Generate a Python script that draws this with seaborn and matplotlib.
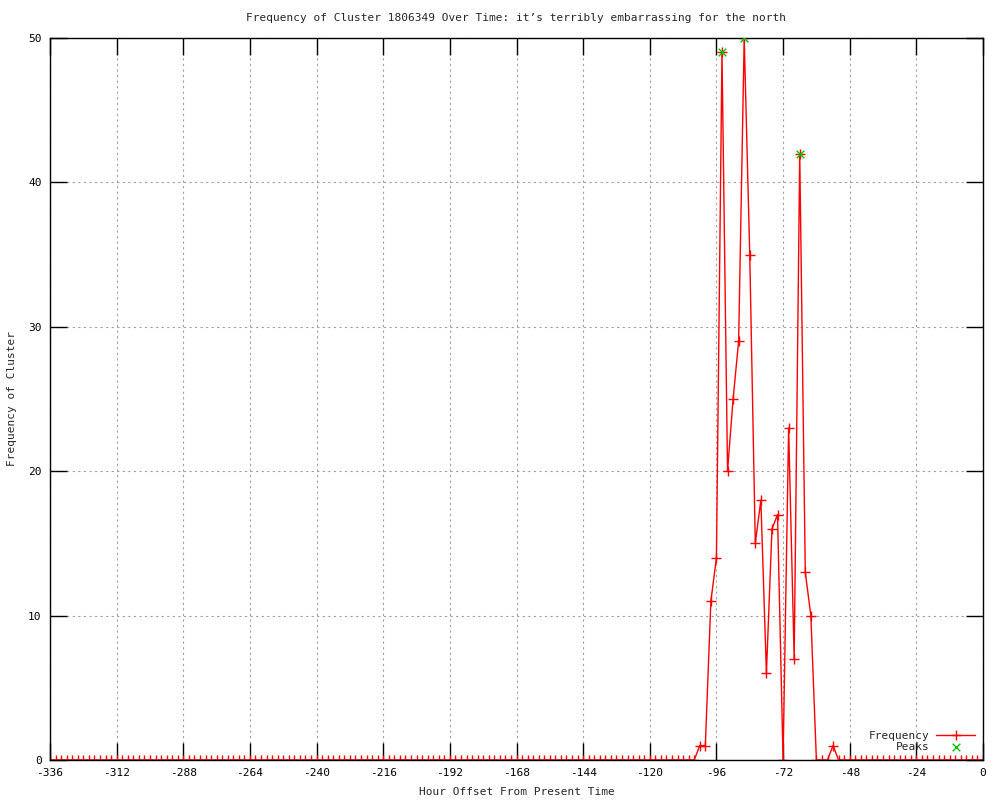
import matplotlib
matplotlib.use("Agg")
import matplotlib.pyplot as plt
import seaborn as sns
import pandas as pd

# hourly buckets (every 2h) from two weeks ago up to now
hours = list(range(-336, 1, 2))

# non-zero part of the series; every other bucket is 0
spike_hours = [-102, -100, -98, -96, -94, -92, -90, -88, -86, -84, -82, -80,
               -78, -76, -74, -72, -70, -68, -66, -64, -62, -54]
spike_counts = [1, 1, 11, 14, 49, 20, 25, 29, 50, 35, 15, 18,
                6, 16, 17, 0, 23, 7, 42, 13, 10, 1]

peak_hours = [-94, -86, -66]
peak_counts = [49, 50, 42]

x_ticks = list(range(-336, 1, 24))
y_ticks = [0, 10, 20, 30, 40, 50]

title = "Frequency of Cluster 1806349 Over Time: it\u2019s terribly embarrassing for the north"

lookup = dict(zip(spike_hours, spike_counts))
df = pd.DataFrame({"hour": hours, "freq": [lookup.get(h, 0) for h in hours]})
peaks = pd.DataFrame({"hour": peak_hours, "freq": peak_counts})

sns.set_style("white")
plt.rcParams["font.family"] = ["DejaVu Sans Mono", "DejaVu Sans"]
plt.rcParams["axes.unicode_minus"] = False

fig = plt.figure(figsize=(10, 8), dpi=100)
ax = fig.add_axes([0.05, 0.05, 0.933, 0.9025])

sns.lineplot(data=df, x="hour", y="freq", ax=ax, color="red", linewidth=1,
             marker="+", markersize=6.5, markeredgewidth=1,
             markeredgecolor="red", label="Frequency")
sns.scatterplot(data=peaks, x="hour", y="freq", ax=ax, marker="x",
                color="#00c000", s=30, linewidth=1, label="Peaks", zorder=4)

ax.set_xlim(-336, 0)
ax.set_ylim(0, 50)
ax.set_xticks(x_ticks)
ax.set_yticks(y_ticks)
ax.grid(True, color="#a0a0a0", linestyle=(0, (2, 3)), linewidth=0.8)
ax.tick_params(direction="in", length=12, width=1, top=True, right=True,
               bottom=True, left=True, labelsize=8, pad=6, colors="black")
for s in ax.spines.values():
    s.set_color("black")
    s.set_linewidth(1)

ax.set_title(title, fontsize=8, pad=12)
ax.set_xlabel("Hour Offset From Present Time", fontsize=8, labelpad=6)
ax.set_ylabel("Frequency of Cluster", fontsize=8, labelpad=8)

ax.legend(loc="lower right", frameon=False, markerfirst=False, fontsize=8,
          handlelength=3.5, handletextpad=0.6, labelspacing=0.1,
          borderaxespad=0.3)

fig.savefig("out.png", dpi=100)
